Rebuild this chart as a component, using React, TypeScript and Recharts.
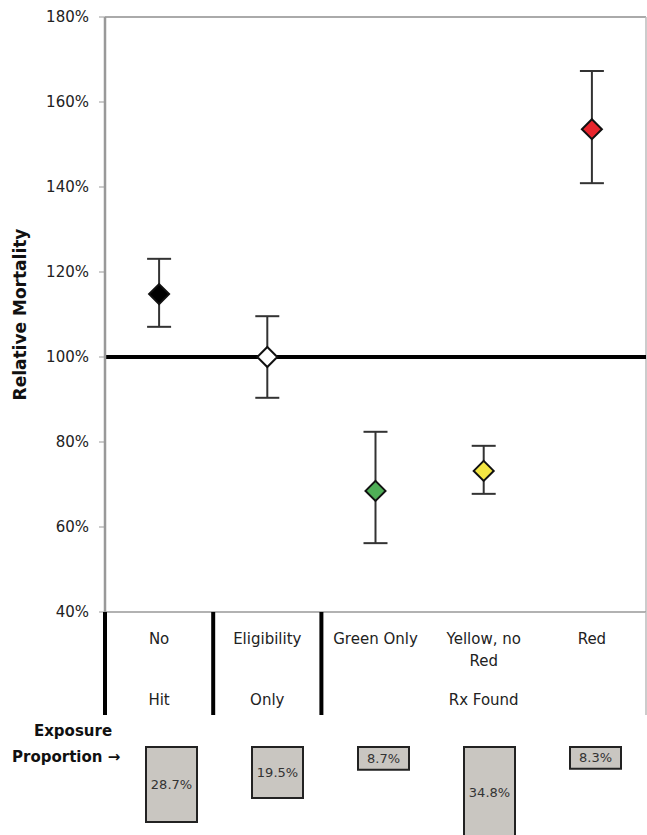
import { Bar, BarChart, ComposedChart, ErrorBar, LabelList, ReferenceLine, Scatter, XAxis, YAxis } from 'recharts'

const categories = ['No Hit', 'Eligibility Only', 'Green Only', 'Yellow, no Red', 'Red']
const labelTop = ['No', 'Eligibility', 'Green Only', 'Yellow, no', 'Red']
const labelSecond = ['', '', '', 'Red', '']
const groupLabels = ['Hit', 'Only', 'Rx Found']
const groupSpans = [[0, 1], [1, 2], [2, 5]]
const relMortality = [1.148, 1.0, 0.685, 0.732, 1.536]
const lowerBound = [1.071, 0.904, 0.562, 0.678, 1.409]
const upperBound = [1.231, 1.096, 0.824, 0.791, 1.673]
const markerColors = ['#000000', '#ffffff', '#4fae57', '#f3e643', '#e8252d']
const exposure = [28.7, 19.5, 8.7, 34.8, 8.3]
const yTicks = [0.4, 0.6, 0.8, 1.0, 1.2, 1.4, 1.6, 1.8]

const FONT = '"DejaVu Sans", Arial, sans-serif'

const points = categories.map((name, i) => ({
  name,
  x: i + 0.5,
  y: relMortality[i],
  err: [relMortality[i] - lowerBound[i], upperBound[i] - relMortality[i]],
  color: markerColors[i],
}))

const bars = categories.map((name, i) => ({ name, value: exposure[i] }))

const boundaries = [0, 1, 2]
const groupCenters = groupSpans.map(([a, b]) => (a + b) / 2)
const xTicks = [0, 0.5, 1, 1.5, 2, 2.5, 3.5, 4.5, 5]

function Diamond(props: any) {
  const { cx, cy, payload } = props
  const r = 10
  return (
    <path
      d={`M${cx},${cy - r} L${cx + r},${cy} L${cx},${cy + r} L${cx - r},${cy} Z`}
      fill={payload.color}
      stroke="#111"
      strokeWidth={2}
    />
  )
}

function CategoryTick(props: any) {
  const { x, y, payload } = props
  const v = payload.value
  if (Number.isInteger(v)) {
    if (boundaries.includes(v)) {
      return <line x1={x} x2={x} y1={y} y2={y + 103} stroke="#000" strokeWidth={4} />
    }
    return <line x1={x} x2={x} y1={y} y2={y + 103} stroke="#bbb" strokeWidth={1.5} />
  }
  const idx = Math.floor(v)
  const g = groupCenters.indexOf(v)
  return (
    <g fontFamily={FONT} fontSize={15} fill="#222" textAnchor="middle">
      <text x={x} y={y + 32}>{labelTop[idx]}</text>
      {labelSecond[idx] && <text x={x} y={y + 54}>{labelSecond[idx]}</text>}
      {g >= 0 && <text x={x} y={y + 93}>{groupLabels[g]}</text>}
    </g>
  )
}

function YLabel(props: any) {
  const { viewBox } = props
  const cy = viewBox.y + viewBox.height / 2
  return (
    <text
      x={20}
      y={cy}
      transform={`rotate(-90, 20, ${cy})`}
      textAnchor="middle"
      dominantBaseline="central"
      fontFamily={FONT}
      fontWeight="bold"
      fontSize={17}
      fill="#111"
    >
      Relative Mortality
    </text>
  )
}

export default function App() {
  return (
    <div style={{ position: 'absolute', left: 0, top: 0, width: 647, height: 835, overflow: 'hidden', background: '#fff' }}>
      <ComposedChart width={647} height={720} data={points} margin={{ top: 17, right: 1, bottom: 0, left: 0 }}>
        <XAxis
          type="number"
          dataKey="x"
          domain={[0, 5]}
          ticks={xTicks}
          interval={0}
          tickSize={0}
          tickMargin={0}
          height={108}
          axisLine={{ stroke: '#999', strokeWidth: 1.5 }}
          tickLine={false}
          tick={(p: any) => <CategoryTick {...p} />}
        />
        <YAxis
          type="number"
          domain={[0.4, 1.8]}
          ticks={yTicks}
          width={105}
          tickSize={6}
          tickMargin={10}
          axisLine={{ stroke: '#999', strokeWidth: 2.5 }}
          tickLine={{ stroke: '#999' }}
          tick={{ fontSize: 15, fill: '#222', fontFamily: FONT }}
          tickFormatter={(v: number) => `${Math.round(v * 100)}%`}
          label={{ content: (p: any) => <YLabel {...p} /> }}
        />
        <ReferenceLine y={1.8} stroke="#aaa" strokeWidth={2} />
        <ReferenceLine x={5} stroke="#bbb" strokeWidth={1.5} />
        <ReferenceLine y={1.0} stroke="#000" strokeWidth={4} />
        <Scatter dataKey="y" isAnimationActive={false} shape={(p: any) => <Diamond {...p} />}>
          <ErrorBar dataKey="err" direction="y" width={12} stroke="#333" strokeWidth={2} />
        </Scatter>
      </ComposedChart>

      <div style={{ position: 'absolute', left: 0, top: 718, width: 128, fontFamily: FONT, fontWeight: 'bold', fontSize: 15, color: '#111', lineHeight: '26px' }}>
        <div style={{ textAlign: 'center', paddingLeft: 18 }}>Exposure</div>
        <div style={{ paddingLeft: 12 }}>Proportion →</div>
      </div>

      <div style={{ position: 'absolute', left: 0, top: 745 }}>
        <BarChart width={650} height={100} data={bars} margin={{ top: 2, right: 2, bottom: 0, left: 118 }} barSize={51}>
          <XAxis dataKey="name" orientation="top" height={0} tick={false} tickLine={false} axisLine={{ stroke: '#999', strokeWidth: 2 }} />
          <YAxis hide reversed type="number" domain={[0, 37.5]} />
          <Bar dataKey="value" fill="#c9c6c1" stroke="#222" strokeWidth={2} isAnimationActive={false}>
            <LabelList dataKey="value" position="center" formatter={(v: any) => `${v}%`} fill="#333" fontSize={13} fontFamily={FONT} />
          </Bar>
        </BarChart>
      </div>
    </div>
  )
}
